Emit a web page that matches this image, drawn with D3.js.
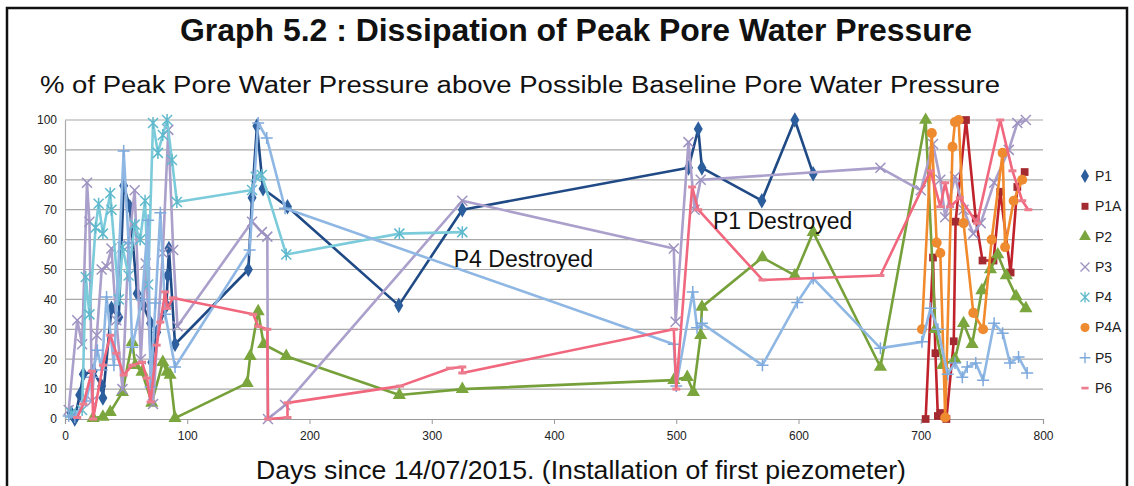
<!DOCTYPE html>
<html>
<head>
<meta charset="utf-8">
<script src="https://cdn.jsdelivr.net/npm/d3@7"></script>
<style>
  body { margin: 0; background: #fff; }
  svg { display: block; }
  .tick text { font-family: 'Liberation Sans', Arial, sans-serif; font-size: 12px; fill: #222; }
</style>
</head>
<body>
<svg id="chart" width="1134" height="486"></svg>
<script>
// [days, %]
const p1 = [[5,2],[8,0],[12,8],[15,15],[23,16],[30,11],[31,7],[38,37],[44,34],[48,78],[53,71],[59,42],[64,38],[70,32],[71,19],[75,29],[83,38],[84,48],[85,57],[90,25],[150,50],[153,74],[157,98],[162,77],[182,71],[273,38],[325,70],[510,84],[518,97],[521,84],[570,73],[597,100],[612,82]]
const p1a = [[704,0],[710,54],[712,22],[714,1],[716,2],[721,0],[727,26],[728.5,66],[737,100],[745,67],[750.5,53],[759.5,53],[765,76],[773.5,49],[779,77.6],[785,82.6]]
const p2 = [[23,0.3],[31,0.7],[37,2.3],[47,9],[55,25.7],[57.5,18],[63,15.7],[71,5.4],[80,19],[83.5,15.7],[86,14.7],[90,0.3],[149,12],[151.5,21],[158,36],[162.5,25],[181,21],[273.5,8],[325,10],[498,13],[509,14],[514,9],[520,28],[521,37.5],[570.5,54],[597,48],[612,62.5],[667,17.4],[704,100],[712,30],[718,18],[728,20],[735,32],[742,25],[750,43],[757,50],[763,55],[770,48],[778,41],[786,37]]
const p3 = [[3,3],[10,33],[14,25],[18,79],[20,66],[22,6],[26,28],[30,50],[34,51],[38,57],[42,33],[47,10],[52,58],[57,76.5],[62,20],[66,52],[72,5],[80,55.5],[84.5,96.7],[88.5,56.5],[92,31],[153,66],[161,62.5],[165.5,61],[166,0],[180,4.7],[325,73],[498,57],[499.5,32.5],[510,92.6],[515,70],[520,80],[667,84],[700,76.5],[710,92],[716,80],[720,67.5],[728,81],[735,70],[743,62],[749,65.5],[760,79],[772,90],[779,99],[786,100]]
const p4 = [[5,2],[14,3],[17,47.5],[20,35],[25,64],[27.5,72],[31,62],[37,75.5],[38,70],[44,40],[47,57.5],[52,48],[57,65],[61.5,60],[65.5,73],[68,45],[72,99],[76,89],[80,95],[83.5,100],[87.5,86.6],[91.5,72.6],[153,76.6],[156,81],[161,81.6],[181,55],[273.5,62],[325,62.5]]
const p4a = [[701,30],[709,95.6],[713,59],[716,55.5],[720,0.5],[726,91],[728,99.3],[731,100],[735,65.5],[743,35.5],[751,30],[758,60],[767,89],[769,57.5],[776,73],[783,80]]
const p5 = [[3,1],[8,0.7],[17,6],[22,14],[26.5,23],[30,16.4],[34,40.8],[40,18],[48,89.6],[52,59],[55,24],[63,40],[68,66.5],[70,10.7],[74,38.8],[78,69],[82,35],[90,17.4],[151,56.5],[158,99],[165,94],[180,70.5],[498,25],[500,11],[513.5,42.5],[517,30.5],[521,32],[570.5,18],[599,39],[612,47],[667,23.7],[701,25.8],[708,37],[714,30],[722,15],[728,18.7],[734,14],[738,17.4],[745,18.7],[751,13],[760,32],[767,28.7],[773,18.7],[780,20.7],[787,15.4]]
const p6 = [[10,0.5],[15,5],[22,16],[23,0],[31,18],[37,28],[42,22],[48,14.7],[55,18],[63,19],[67,13.7],[70,5.7],[75,24.7],[78,32.4],[82,42.5],[83.5,37],[88.5,40.5],[154,35],[158,31],[165.5,30],[166,0],[182,0.5],[182,5.4],[274,11],[315,17],[325,17.4],[325,15.4],[498,30],[500,10],[513,77.6],[518,70],[570.5,46.5],[667,48],[708,83],[716,71],[720,79],[724,71],[732,74],[746,65.5],[765,100],[775,83],[783,73],[788,70]]

const seriesNames = ['P1', 'P1A', 'P2', 'P3', 'P4', 'P4A', 'P5', 'P6']
const xTicks = [0, 100, 200, 300, 400, 500, 600, 700, 800]
const yTicks = [0, 10, 20, 30, 40, 50, 60, 70, 80, 90, 100]
const notes = [
  { text: 'P4 Destroyed', day: 318, val: 51 },
  { text: 'P1 Destroyed', day: 530, val: 63.5 }
]

const series = [
  { name: 'P1', data: p1, line: '#1f4a86', fill: '#2c5d9c', mark: 'diamond' },
  { name: 'P1A', data: p1a, line: '#c0222b', fill: '#a32a30', mark: 'square' },
  { name: 'P2', data: p2, line: '#76a03a', fill: '#7aa63d', mark: 'triangle' },
  { name: 'P3', data: p3, line: '#ab9fcb', fill: '#9d92c0', mark: 'x' },
  { name: 'P4', data: p4, line: '#7ccbdb', fill: '#5fb9cc', mark: 'star' },
  { name: 'P4A', data: p4a, line: '#f08a2c', fill: '#ee8a30', mark: 'circle' },
  { name: 'P5', data: p5, line: '#8fb7e4', fill: '#7ea9dc', mark: 'plus' },
  { name: 'P6', data: p6, line: '#f0677e', fill: '#ec7d8f', mark: 'dash' }
]

const svg = d3.select('#chart')

// outer frame
svg.append('rect')
  .attr('x', 7).attr('y', 8)
  .attr('width', 1120).attr('height', 520)
  .attr('fill', 'none')
  .attr('stroke', '#111')
  .attr('stroke-width', 2.5)

svg.append('text')
  .attr('x', 576).attr('y', 41)
  .attr('text-anchor', 'middle')
  .attr('textLength', 792)
  .attr('lengthAdjust', 'spacingAndGlyphs')
  .style('font-family', "'Liberation Sans Narrow', 'Liberation Sans', Arial, sans-serif")
  .style('font-weight', 'bold')
  .style('font-size', '31px')
  .style('fill', '#111')
  .text('Graph 5.2 : Dissipation of Peak Pore Water Pressure')

svg.append('text')
  .attr('x', 40).attr('y', 93)
  .attr('textLength', 960)
  .attr('lengthAdjust', 'spacingAndGlyphs')
  .style('font-family', "'Liberation Sans', Arial, sans-serif")
  .style('font-size', '23px')
  .style('fill', '#111')
  .text('% of Peak Pore Water Pressure above Possible Baseline Pore Water Pressure')

const x = d3.scaleLinear().domain([0, 800]).range([65, 1043])
const y = d3.scaleLinear().domain([0, 100]).range([419, 120])

// gridlines
svg.append('g')
  .selectAll('line')
  .data(yTicks.slice(1))
  .join('line')
  .attr('x1', x(0)).attr('x2', x(800))
  .attr('y1', d => y(d)).attr('y2', d => y(d))
  .attr('stroke', '#a8a8a8')
  .attr('stroke-width', 1.2)

let yAxis = svg.append('g')
  .attr('transform', `translate(${x(0)},0)`)
  .call(d3.axisLeft(y).tickValues(yTicks).tickSize(0).tickPadding(8))
yAxis.select('.domain').attr('stroke', '#a8a8a8').attr('stroke-width', 1.2)

let xAxis = svg.append('g')
  .attr('transform', `translate(0,${y(0)})`)
  .call(d3.axisBottom(x).tickValues(xTicks).tickSize(5).tickPadding(7))
xAxis.select('.domain').attr('stroke', '#999').attr('stroke-width', 1.2)
xAxis.selectAll('.tick line').attr('stroke', '#999')

svg.append('text')
  .attr('x', 581).attr('y', 479)
  .attr('text-anchor', 'middle')
  .attr('textLength', 650)
  .attr('lengthAdjust', 'spacingAndGlyphs')
  .style('font-family', "'Liberation Sans Narrow', 'Liberation Sans', Arial, sans-serif")
  .style('font-size', '25px')
  .style('fill', '#111')
  .text('Days since 14/07/2015. (Installation of first piezometer)')

// marker shapes
const markPath = {
  diamond: d3.symbol(d3.symbolDiamond, 70)(),
  square: d3.symbol(d3.symbolSquare, 60)(),
  triangle: d3.symbol(d3.symbolTriangle, 75)(),
  circle: d3.symbol(d3.symbolCircle, 80)(),
  x: 'M-5,-5L5,5M-5,5L5,-5',
  star: 'M-5,-5L5,5M-5,5L5,-5M0,-6L0,6',
  plus: 'M-6,0L6,0M0,-6L0,6',
  dash: 'M-4,0L4,0'
}
const strokeMarks = ['x', 'star', 'plus', 'dash']

function drawMark (sel, s) {
  sel.attr('d', markPath[s.mark])
  if (strokeMarks.includes(s.mark)) {
    sel.attr('fill', 'none')
      .attr('stroke', s.fill)
      .attr('stroke-width', s.mark === 'dash' ? 3 : 1.5)
  } else {
    sel.attr('fill', s.fill).attr('stroke', 'none')
  }
}

const line = d3.line()
  .x(d => x(d[0]))
  .y(d => y(d[1]))

let plot = svg.append('g').attr('class', 'series')

series.forEach(s => {
  let g = plot.append('g')
  g.append('path')
    .datum(s.data)
    .attr('d', line)
    .attr('fill', 'none')
    .attr('stroke', s.line)
    .attr('stroke-width', 2.6)
    .attr('stroke-linejoin', 'round')

  g.selectAll('path.mark')
    .data(s.data)
    .join('path')
    .attr('class', 'mark')
    .attr('transform', d => `translate(${x(d[0])},${y(d[1])})`)
    .call(drawMark, s)
})

// annotations
svg.selectAll('text.note')
  .data(notes)
  .join('text')
  .attr('class', 'note')
  .attr('x', d => x(d.day))
  .attr('y', d => y(d.val))
  .style('font-family', "'Liberation Sans', Arial, sans-serif")
  .style('font-size', '23px')
  .style('fill', '#111')
  .text(d => d.text)

// legend
let legend = svg.append('g')
  .attr('transform', 'translate(1085,176)')

series.forEach((s, i) => {
  let item = legend.append('g')
    .attr('transform', `translate(0,${i * 30.3})`)
  item.append('path')
    .attr('transform', 'scale(0.9)')
    .call(drawMark, s)
  item.append('text')
    .attr('x', 10)
    .attr('dy', '0.35em')
    .style('font-family', "'Liberation Sans', Arial, sans-serif")
    .style('font-size', '14px')
    .style('fill', '#222')
    .text(seriesNames[i])
})
</script>
</body>
</html>
